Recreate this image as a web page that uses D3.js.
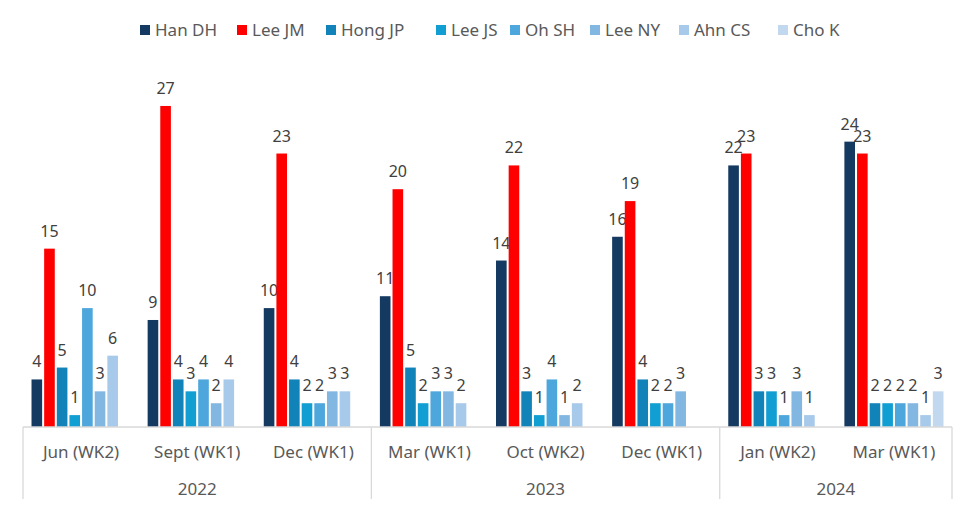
<!DOCTYPE html>
<html><head><meta charset="utf-8">
<script src="https://cdn.jsdelivr.net/npm/d3@7"></script>
<style>body{margin:0;background:#fff}svg{display:block}text{font-family:"Noto Sans",sans-serif}</style>
</head><body><svg id="c" width="975" height="510"></svg>
<script>
const periods = ["Jun (WK2)","Sept (WK1)","Dec (WK1)","Mar (WK1)","Oct (WK2)","Dec (WK1)","Jan (WK2)","Mar (WK1)"];
const years = ["2022","2022","2022","2023","2023","2023","2024","2024"];
const seriesNames = ["Han DH","Lee JM","Hong JP","Lee JS","Oh SH","Lee NY","Ahn CS","Cho K"];
const hanDH  = [4, 9, 10, 11, 14, 16, 22, 24];
const leeJM  = [15, 27, 23, 20, 22, 19, 23, 23];
const hongJP = [5, 4, 4, 5, 3, 4, 3, 2];
const leeJS  = [1, 3, 2, 2, 1, 2, 3, 2];
const ohSH   = [10, 4, 2, 3, 4, 2, 1, 2];
const leeNY  = [3, 2, 3, 3, 1, 3, 3, 2];
const ahnCS  = [6, 4, 3, 2, 2, null, 1, 1];
const choK   = [null, null, null, null, null, null, null, 3];
const colors = ["#153A61","#FF0000","#1283B8","#119ED3","#4DA6DC","#82B7E1","#A7C9EA","#C2D8EE"];

const values = [hanDH, leeJM, hongJP, leeJS, ohSH, leeNY, ahnCS, choK];
const svg = d3.select("#c");
const left = 23, right = 952, base = 427, bottom = 499;
const idx = periods.map((p,i)=>i);
const x0 = d3.scaleBand().domain(idx).range([left, right]).paddingInner(0).paddingOuter(0);
const cw = x0.bandwidth();
const x1 = d3.scaleBand().domain(seriesNames).range([7.5, cw - 7.5]).paddingInner(0.16).paddingOuter(0.08);
const y = d3.scaleLinear().domain([0, 30]).range([base, base - 30 * 11.89]);

// bars
const g = svg.append("g");
idx.forEach(i => {
  seriesNames.forEach((s, k) => {
    const v = values[k][i];
    if (v == null) return;
    const bx = x0(i) + x1(s);
    g.append("rect").attr("x", bx).attr("y", y(v)).attr("width", x1.bandwidth())
      .attr("height", y(0) - y(v)).attr("fill", colors[k]);
    g.append("text").attr("x", bx + x1.bandwidth()/2).attr("y", y(v) - 12)
      .attr("text-anchor", "middle").attr("font-size", 16).attr("fill", "#404040").text(v);
  });
});

// axis line and dividers
const ax = svg.append("g").attr("stroke", "#D9D9D9").attr("stroke-width", 1.3);
ax.append("line").attr("x1", left).attr("x2", right).attr("y1", base).attr("y2", base);
[0, 3, 6].forEach(i => ax.append("line").attr("x1", x0(i)).attr("x2", x0(i)).attr("y1", base).attr("y2", bottom));
ax.append("line").attr("x1", right).attr("x2", right).attr("y1", base).attr("y2", bottom);

// category labels
idx.forEach(i => {
  svg.append("text").attr("x", x0(i) + cw/2).attr("y", 458).attr("text-anchor", "middle")
    .attr("font-size", 17).attr("fill", "#595959").text(periods[i]);
});
// year labels
const yearGroups = d3.groups(idx, i => years[i]);
yearGroups.forEach(([yr, is]) => {
  const a = x0(is[0]), b = x0(is[is.length-1]) + cw;
  svg.append("text").attr("x", (a+b)/2).attr("y", 495).attr("text-anchor", "middle")
    .attr("font-size", 17).attr("fill", "#595959").text(yr);
});

// legend
const lg = svg.append("g");
const legX = [140, 237, 326, 436, 510, 590, 679, 778];
seriesNames.forEach((s, k) => {
  lg.append("rect").attr("x", legX[k]).attr("y", 25).attr("width", 10).attr("height", 10).attr("fill", colors[k]);
  lg.append("text").attr("x", legX[k] + 15).attr("y", 36).attr("font-size", 17).attr("fill", "#595959").text(s);
});
</script></body></html>
